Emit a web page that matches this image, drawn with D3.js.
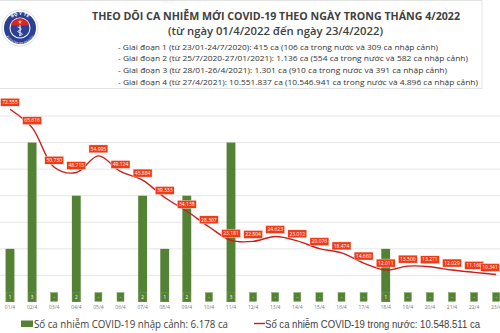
<!DOCTYPE html>
<html>
<head>
<meta charset="utf-8">
<script src="https://cdn.jsdelivr.net/npm/d3@7"></script>
<style>
  html, body { margin: 0; padding: 0; background: #fff; }
  svg { display: block; }
</style>
</head>
<body>
<svg id="chart" width="500" height="333"></svg>
<script>
// Daily new COVID-19 cases, April 2022
const days = ["01/4","02/4","03/4","04/4","05/4","06/4","07/4","08/4","09/4","10/4","11/4","12/4",
              "13/4","14/4","15/4","16/4","17/4","18/4","19/4","20/4","21/4","22/4","23/4"];
// imported cases (bars)
const imported = [1,3,0,2,0,0,2,1,2,0,3,0,0,0,0,0,0,1,0,0,0,0,0];
// domestic cases (line)
const domestic = [72555,65616,50730,48715,54995,49124,45884,39333,34138,28307,23181,22804,
                  24623,23012,20076,18474,14660,12011,13500,13271,12029,11160,10341];

const titleLines = [
  "THEO DÕI CA NHIỄM MỚI COVID-19 THEO NGÀY TRONG THÁNG 4/2022",
  "(từ ngày 01/4/2022 đến ngày 23/4/2022)"
];
const phaseLines = [
  "- Giai đoạn 1 (từ 23/01-24/7/2020): 415 ca (106 ca trong nước và 309 ca nhập cảnh)",
  "- Giai đoạn 2 (từ 25/7/2020-27/01/2021): 1.136 ca (554 ca trong nước và 582 ca nhập cảnh)",
  "- Giai đoạn 3 (từ 28/01-26/4/2021): 1.301 ca (910 ca trong nước và 391 ca nhập cảnh)",
  "- Giai đoạn 4 (từ 27/4/2021): 10.551.837 ca (10.546.941 ca trong nước và 4.896 ca nhập cảnh)"
];
const legendLabels = [
  "Số ca nhiễm COVID-19 nhập cảnh: 6.178 ca",
  "Số ca nhiễm COVID-19 trong nước: 10.548.511 ca"
];

const fmt = d3.format(",");
const viNum = v => fmt(v).replace(/,/g, ".");

const svg = d3.select("#chart");
const W = 500;
const GREEN = "#548235", RED = "#cc1d1a", LABEL_RED = "#ef3c17";

// ---- header panel ----
svg.append("rect").attr("x", -2).attr("y", 0.5).attr("width", 484).attr("height", 88)
  .attr("fill", "#fff").attr("stroke", "#e3e3e3");

// ministry emblem
const logo = svg.append("g").attr("transform", "translate(20,28)");
logo.append("circle").attr("r", 18).attr("fill", "#fff").attr("stroke", "#d6d6d6").attr("stroke-width", 0.8);
logo.append("circle").attr("r", 16).attr("fill", "#2b3f93");
logo.append("circle").attr("r", 10.5).attr("fill", "#fff");
logo.append("circle").attr("r", 9.5).attr("fill", "#2b3f93");
logo.append("path").attr("d", "M-9.2,-2.5 A9.5,9.5 0 0 1 9.2,-2.5 Z").attr("fill", "#d8262b");
logo.append("path").attr("d", d3.symbol(d3.symbolStar, 6)()).attr("transform", "translate(0,-6)").attr("fill", "#ffe14a");
// staff and serpent
logo.append("line").attr("x1", 0).attr("y1", -3).attr("x2", 0).attr("y2", 8).attr("stroke", "#fff").attr("stroke-width", 1);
logo.append("path").attr("d", "M-2.5,-1 C2.5,0 2.5,2 -2,3 C-4,4 2,5 2.5,6 C3,7 -1,7.5 -1,7.5")
  .attr("fill", "none").attr("stroke", "#fff").attr("stroke-width", 0.8);
const defs = svg.append("defs");
defs.append("path").attr("id", "arcTop").attr("d", "M-13,0 A13,13 0 0 1 13,0");
defs.append("path").attr("id", "arcBot").attr("d", "M-13.5,0 A13.5,13.5 0 0 0 13.5,0");
logo.append("text").attr("font-family", "DejaVu Sans").attr("font-size", 4).attr("font-weight", "bold").attr("fill", "#fff")
  .append("textPath").attr("href", "#arcTop").attr("startOffset", "50%").attr("text-anchor", "middle").text("BỘ Y TẾ");
logo.append("text").attr("font-family", "DejaVu Sans").attr("font-size", 2.6).attr("fill", "#fff")
  .attr("dy", 2.5)
  .append("textPath").attr("href", "#arcBot").attr("startOffset", "50%").attr("text-anchor", "middle").text("MINISTRY OF HEALTH");

svg.append("text").attr("x", 92).attr("y", 19.5)
  .attr("font-family", "Open Sans").attr("font-weight", "bold").attr("font-size", 10)
  .attr("fill", "#404040").attr("textLength", 368).attr("lengthAdjust", "spacingAndGlyphs")
  .text(titleLines[0]);
svg.append("text").attr("x", 168).attr("y", 35)
  .attr("font-family", "Open Sans").attr("font-weight", 600).attr("font-size", 10.5)
  .attr("fill", "#404040").attr("textLength", 215).attr("lengthAdjust", "spacingAndGlyphs")
  .text(titleLines[1]);
const phaseEnds = [438, 468, 447, 478];
phaseLines.forEach((t, i) => {
  svg.append("text").attr("x", 118).attr("y", 49.5 + i * 11.8)
    .attr("font-family", "Open Sans").attr("font-size", 7.6).attr("fill", "#333")
    .attr("textLength", phaseEnds[i] - 118).attr("lengthAdjust", "spacingAndGlyphs")
    .text(t);
});

// ---- scales ----
const x = d3.scaleBand().domain(days).range([-1.05, 507.25]).paddingInner(0.6).paddingOuter(0.3);
const yBar = d3.scaleLinear().domain([0, 3.5]).range([302, 116]);
const yLine = d3.scaleLinear().domain([0, 70000]).range([302, 116]);
const cx = d => x(d) + x.bandwidth() / 2;

// gridlines
svg.append("g").selectAll("line").data(d3.range(0.5, 3.51, 0.5)).join("line")
  .attr("x1", 0).attr("x2", W)
  .attr("y1", d => yBar(d)).attr("y2", d => yBar(d))
  .attr("stroke", "#e6e6e6").attr("stroke-width", 1);

// x axis labels
const xAxis = d3.axisBottom(x).tickSize(0).tickPadding(0);
const gx = svg.append("g").attr("transform", "translate(0,305)").call(xAxis);
gx.select(".domain").remove();
gx.selectAll("text").attr("font-family", "Open Sans").attr("font-size", 5).attr("fill", "#7a7a7a").attr("dy", "0.71em");

// bars
svg.append("g").selectAll("rect").data(days).join("rect")
  .attr("x", d => x(d)).attr("width", x.bandwidth())
  .attr("y", (d, i) => yBar(imported[i]))
  .attr("height", (d, i) => yBar(0) - yBar(imported[i]))
  .attr("fill", GREEN);

// bar value tags at the base
const tags = svg.append("g").selectAll("g").data(days).join("g")
  .attr("transform", d => `translate(${cx(d)},${yBar(0) - 5})`);
tags.append("rect").attr("x", -3.5).attr("y", -4.3).attr("width", 7).attr("height", 8.6)
  .attr("fill", GREEN).attr("stroke", "#6f9a52").attr("stroke-width", 0.5);
tags.append("text").attr("text-anchor", "middle").attr("dy", "0.35em")
  .attr("font-family", "Open Sans").attr("font-size", 4.5).attr("fill", "#fff")
  .text((d, i) => imported[i] === 0 ? "-" : imported[i]);

// domestic cases line
const line = d3.line()
  .x((d, i) => cx(days[i]))
  .y(d => yLine(d))
  .curve(d3.curveCatmullRom.alpha(0.5));
svg.append("path").datum(domestic).attr("d", line)
  .attr("fill", "none").attr("stroke", RED).attr("stroke-width", 1.4);

// line value labels (kept inside the right edge)
const LW = 19;
const lab = svg.append("g").selectAll("g").data(domestic).join("g")
  .attr("transform", (d, i) => `translate(${Math.min(cx(days[i]), W - LW / 2 - 0.5)},${yLine(d) - 7})`);
lab.append("rect").attr("x", -LW / 2).attr("y", -4).attr("width", LW).attr("height", 8)
  .attr("fill", LABEL_RED).attr("stroke", "#fff").attr("stroke-width", 0.4);
lab.append("text").attr("text-anchor", "middle").attr("dy", "0.35em")
  .attr("font-family", "Open Sans").attr("font-size", 5).attr("fill", "#fff")
  .text(d => viNum(d));

// ---- legend ----
svg.append("rect").attr("x", 21).attr("y", 320.5).attr("width", 12).attr("height", 6.5).attr("fill", GREEN);
svg.append("text").attr("x", 34).attr("y", 327.5)
  .attr("font-family", "Open Sans").attr("font-size", 10).attr("fill", "#404040")
  .attr("textLength", 194).attr("lengthAdjust", "spacingAndGlyphs")
  .text(legendLabels[0]);
svg.append("line").attr("x1", 254).attr("x2", 265).attr("y1", 323.5).attr("y2", 323.5)
  .attr("stroke", RED).attr("stroke-width", 1.4);
svg.append("text").attr("x", 265).attr("y", 327.5)
  .attr("font-family", "Liberation Sans").attr("font-size", 10).attr("fill", "#404040")
  .attr("textLength", 215).attr("lengthAdjust", "spacingAndGlyphs")
  .text(legendLabels[1]);
</script>
</body>
</html>
